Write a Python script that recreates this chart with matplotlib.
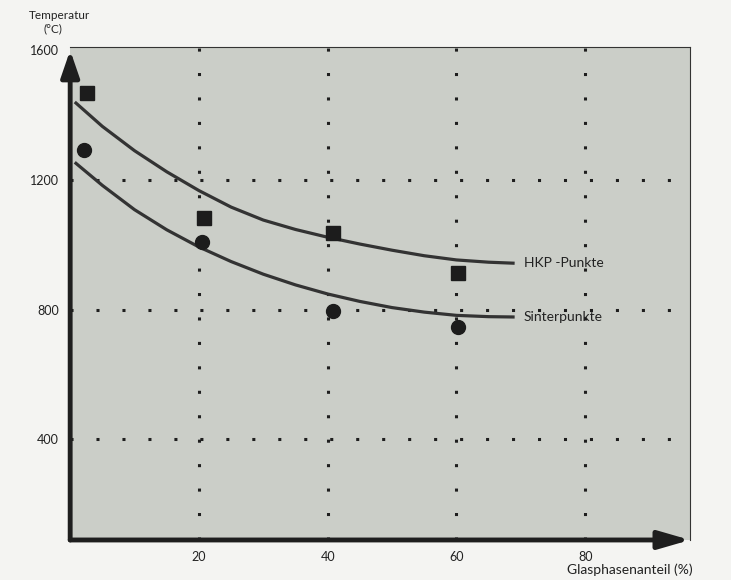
import matplotlib.pyplot as plt

# Messpunkte
glas_hkp = [2.6, 20.8, 40.9, 60.2]
temp_hkp = [1467, 1083, 1037, 913]
glas_sinter = [2.2, 20.5, 40.8, 60.2]
temp_sinter = [1291, 1009, 796, 746]

# Ausgleichskurven
kurve_x = [0.9, 5, 10, 15, 20, 25, 30, 35, 40, 45, 50, 55, 60, 65, 68.8]
kurve_hkp = [1437, 1365, 1290, 1225, 1167, 1116, 1076, 1047, 1023, 1002, 983, 966, 953, 946, 943]
kurve_sinter = [1251, 1183, 1108, 1046, 993, 948, 909, 876, 848, 825, 806, 792, 782, 778, 777]

x_ticks = [20, 40, 60, 80]
y_ticks = [400, 800, 1200, 1600]

plt.rcParams['font.family'] = ['Lato', 'DejaVu Sans']

fig = plt.figure(figsize=(7.31, 5.80), dpi=100, facecolor='#f4f4f2')
ax = fig.add_axes([0.096, 0.069, 0.848, 0.850])
ax.set_facecolor('#cbcec8')
ax.set_xlim(0, 96.3)
ax.set_ylim(89, 1610)

for s in ['top', 'right']:
    ax.spines[s].set_linewidth(0.8)
    ax.spines[s].set_color('#333333')
for s in ['left', 'bottom']:
    ax.spines[s].set_visible(False)

# Gitter aus Punkten
for xv in x_ticks:
    ax.axvline(xv, color='#1e1e1e', lw=2.2, ls=(0, (1, 7)), zorder=1)
for yv in y_ticks[:-1]:
    ax.axhline(yv, color='#1e1e1e', lw=2.2, ls=(0, (1, 7.5)), zorder=1)

ax.plot(kurve_x, kurve_hkp, color='#333333', lw=2.3, zorder=3, solid_joinstyle='round')
ax.plot(kurve_x, kurve_sinter, color='#333333', lw=2.3, zorder=3, solid_joinstyle='round')
ax.plot(glas_hkp, temp_hkp, 's', color='#1c1c1c', ms=9.5, zorder=4)
ax.plot(glas_sinter, temp_sinter, 'o', color='#1c1c1c', ms=10, zorder=4)

ax.text(70.5, kurve_hkp[-1], 'HKP -Punkte', fontsize=10, va='center', color='#222222')
ax.text(70.5, kurve_sinter[-1], 'Sinterpunkte', fontsize=10, va='center', color='#222222')

# Achsen als Pfeile
ax.annotate('', xy=(0, 1600), xytext=(0, 89), xycoords='data',
            arrowprops=dict(arrowstyle='-|>,head_width=0.55,head_length=1.6',
                            color='#1e1e1e', lw=3.5, shrinkA=0, shrinkB=0),
            annotation_clip=False, zorder=5)
ax.annotate('', xy=(96.3, 89), xytext=(0, 89), xycoords='data',
            arrowprops=dict(arrowstyle='-|>,head_width=0.55,head_length=1.9',
                            color='#1e1e1e', lw=3.5, shrinkA=0, shrinkB=0),
            annotation_clip=False, zorder=5)

ax.set_xticks(x_ticks)
ax.set_yticks(y_ticks)
ax.tick_params(length=0, labelsize=9, colors='#222222', pad=8)

fig.text(0.040, 0.968, 'Temperatur', fontsize=8.5, color='#222222')
fig.text(0.060, 0.945, '(°C)', fontsize=8.5, color='#222222')
fig.text(0.948, 0.010, 'Glasphasenanteil (%)', fontsize=10, color='#222222', ha='right')

fig.savefig('out.png', dpi=100, facecolor=fig.get_facecolor())
